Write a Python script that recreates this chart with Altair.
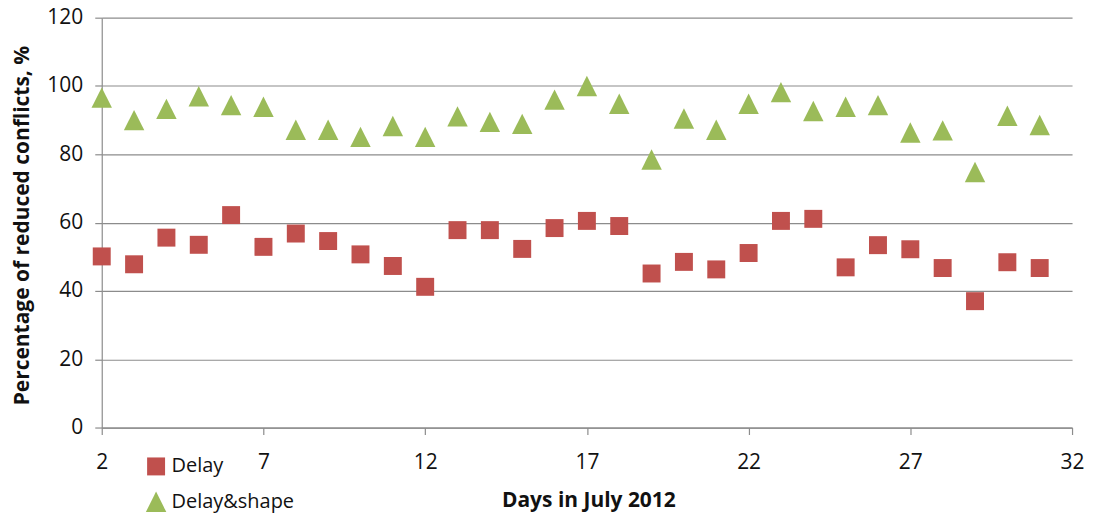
import altair as alt
import pandas as pd

days = list(range(2, 32))
delay = [50.1, 47.8, 55.6, 53.5, 62.2, 52.9, 56.8, 54.6, 50.7, 47.3,
         41.2, 57.8, 57.8, 52.3, 58.4, 60.5, 59.0, 45.1, 48.5, 46.3,
         51.1, 60.5, 61.1, 46.9, 53.4, 52.2, 46.7, 37.0, 48.4, 46.7]
delay_shape = [96.6, 90.0, 93.3, 97.0, 94.4, 93.9, 87.2, 87.2, 85.1, 88.3,
               85.1, 91.1, 89.5, 88.9, 96.0, 100.0, 94.8, 78.5, 90.5, 87.2,
               94.8, 98.2, 92.7, 93.9, 94.4, 86.4, 87.0, 74.8, 91.3, 88.6]
series_names = ["Delay", "Delay&shape"]
x_ticks = [2, 7, 12, 17, 22, 27, 32]
y_ticks = [0, 20, 40, 60, 80, 100, 120]

df = pd.DataFrame({
    "day": days * 2,
    "value": delay + delay_shape,
    "series": [series_names[0]] * len(days) + [series_names[1]] * len(days),
})

FONT = "Open Sans"
GRID = "#8c8c8c"
TEXT = "#111111"

legend = alt.Legend(
    title=None, orient="none", legendX=44, legendY=440, direction="vertical",
    padding=0, rowPadding=15, labelFont=FONT, labelFontSize=20,
    labelColor=TEXT, labelOffset=5, symbolStrokeWidth=0,
    symbolOpacity=1,
)

chart = alt.Chart(df).mark_point(filled=True, opacity=1, strokeWidth=0).encode(
    x=alt.X("day:Q",
            scale=alt.Scale(domain=[2, 32], nice=False, zero=False),
            axis=alt.Axis(values=x_ticks, title="Days in July 2012", grid=False,
                          domainColor=GRID, tickColor=GRID, tickSize=7,
                          labelFont=FONT, labelFontSize=21, labelColor=TEXT,
                          labelBaseline="alphabetic", labelPadding=34,
                          labelFlush=False,
                          titleFont=FONT, titleFontSize=21, titleFontWeight="bold",
                          titleColor=TEXT, titleBaseline="alphabetic",
                          titleY=79, titleX=488)),
    y=alt.Y("value:Q",
            scale=alt.Scale(domain=[0, 120], nice=False),
            axis=alt.Axis(values=y_ticks, title="Percentage of reduced conflicts, %",
                          grid=True, gridColor=GRID, gridWidth=1.2,
                          domainColor=GRID, tickColor=GRID, tickSize=7,
                          labelFont=FONT, labelFontSize=21, labelColor=TEXT,
                          labelPadding=12, labelBaseline="middle",
                          titleFont=FONT, titleFontSize=21, titleFontWeight="bold",
                          titleColor=TEXT, titleAngle=-90,
                          titleBaseline="middle", titleAlign="center",
                          titleX=-79, titleY=208)),
    color=alt.Color("series:N",
                    scale=alt.Scale(domain=series_names, range=["#C0504D", "#9BBB59"]),
                    legend=legend),
    shape=alt.Shape("series:N",
                    scale=alt.Scale(domain=series_names,
                                    range=["square", "M-1,1L1,1L0,-1Z"]),
                    legend=legend),
    size=alt.Size("series:N",
                  scale=alt.Scale(domain=series_names, range=[324, 420]),
                  legend=legend),
).properties(
    width=973, height=411,
    autosize=alt.AutoSizeParams(type="none"),
    padding={"left": 94, "top": 9, "right": 15, "bottom": 87},
).configure_view(stroke=None).configure_axis(domainWidth=1.2, tickWidth=1.2)

chart.save("out.html", embed_options={"renderer": "svg", "actions": False})
